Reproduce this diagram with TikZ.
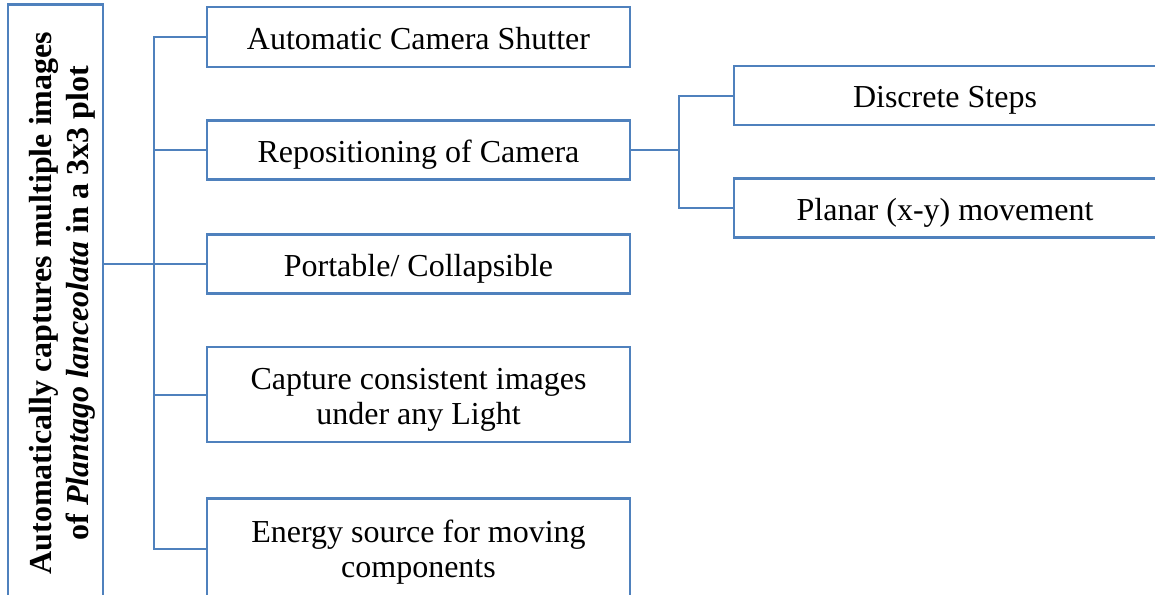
\documentclass[tikz,border=0pt]{standalone}
\usepackage{fontspec}
\setmainfont{Liberation Serif}
\definecolor{lineblue}{HTML}{4F81BD}
\newcommand\mytopstrut[1]{\rule{0pt}{#1}}
\begin{document}
\begin{tikzpicture}[x=1pt,y=-1pt,
  box/.style={draw=lineblue,line width=2.6pt,fill=white,align=center,inner sep=0pt,
    font=\fontsize{32}{35}\selectfont,
    execute at begin node={\rule{0pt}{#1}},
    execute at end node={\rule[-6.5pt]{0pt}{6.5pt}}},
  box/.default=31pt,
  mainbox/.style={box=#1,minimum width=423pt},
  mainbox/.default=31pt,
  sidebox/.style={box,minimum width=422pt,minimum height=59pt},
  conn/.style={draw=lineblue,line width=2pt}]
\useasboundingbox (0,0) rectangle (1155,594);
\clip (0,0) rectangle (1155,594);
\fill[white] (0,0) rectangle (1155,594);
% root
\node[box=0pt,minimum width=597pt,minimum height=95pt,rotate=90,font=\bfseries\fontsize{32}{37}\selectfont] (root) at (55.5,303)
  {\mytopstrut{36pt}Automatically captures multiple images\\of \textit{Plantago lanceolata} in a 3x3 plot};
% main boxes
\node[mainbox,minimum height=60pt] (a) at (418.5,37) {Automatic Camera Shutter};
\node[mainbox,minimum height=59pt] (b) at (418.5,150) {Repositioning of Camera};
\node[mainbox,minimum height=59pt] (c) at (418.5,264) {Portable/ Collapsible};
\node[mainbox=0pt,minimum height=95pt] (d) at (418.5,394.5) {\mytopstrut{32pt}Capture consistent images\\under any Light};
\node[mainbox=0pt,minimum height=100pt] (e) at (418.5,548.5) {\mytopstrut{30pt}Energy source for moving\\components};
% side boxes
\node[sidebox] (r1) at (945,95.5) {Discrete Steps};
\node[sidebox] (r2) at (945,208) {Planar (x-y) movement};
% connectors
\coordinate (sp) at (154,0);
\draw[conn] (root.south |- c.west) -- (c.west);
\draw[conn] (a.west) -- (sp |- a.west) -- (sp |- e.west) -- (e.west);
\draw[conn] (b.west) -- (sp |- b.west);
\draw[conn] (d.west) -- (sp |- d.west);
\coordinate (sp2) at (679,0);
\draw[conn] (b.east) -- (sp2 |- b.east);
\draw[conn] (r1.west) -- (sp2 |- r1.west) -- (sp2 |- r2.west) -- (r2.west);
\end{tikzpicture}
\end{document}
